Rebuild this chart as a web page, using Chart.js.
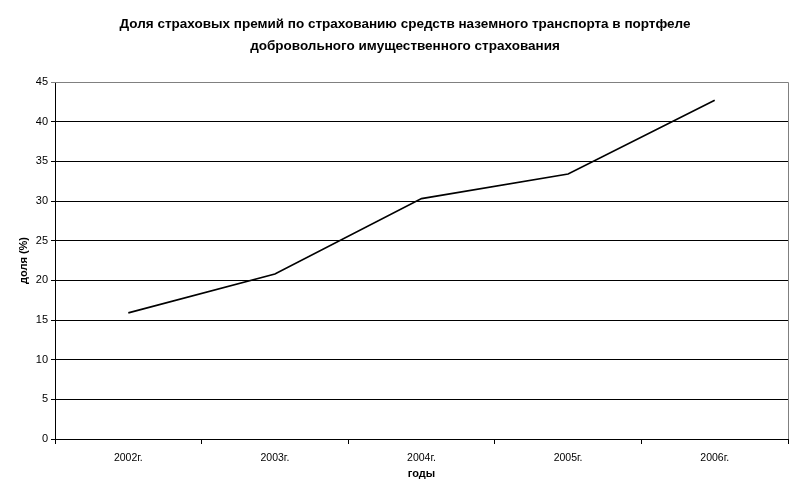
<!DOCTYPE html>
<html>
<head>
<meta charset="utf-8">
<script src="https://cdn.jsdelivr.net/npm/chart.js@4/dist/chart.umd.min.js"></script>
<style>
html,body{margin:0;padding:0;background:#fff;}
#wrap{width:800px;height:497px;position:relative;}
</style>
</head>
<body>
<div id="wrap"><canvas id="c" width="800" height="497"></canvas></div>
<script>
const titleLines = ['Доля страховых премий по страхованию средств наземного транспорта в портфеле', 'добровольного имущественного страхования'];
const categories = ['2002г.', '2003г.', '2004г.', '2005г.', '2006г.'];
const shareValues = [15.9, 20.8, 30.3, 33.4, 42.7];
const yTitle = 'доля (%)';
const xTitle = 'годы';
const yMin = 0, yMax = 45, yStep = 5;

const frame = {
  id: 'frame',
  afterDraw(chart) {
    const {ctx, chartArea: a} = chart;
    ctx.save();
    ctx.strokeStyle = '#808080';
    ctx.lineWidth = 1;
    ctx.beginPath();
    ctx.moveTo(a.left, Math.round(a.top) + 0.5);
    ctx.lineTo(Math.round(a.right) + 0.5, Math.round(a.top) + 0.5);
    ctx.lineTo(Math.round(a.right) + 0.5, a.bottom);
    ctx.stroke();
    ctx.restore();
  }
};

new Chart(document.getElementById('c'), {
  type: 'line',
  data: {
    labels: categories,
    datasets: [{
      data: shareValues,
      borderColor: '#000',
      borderWidth: 1.6,
      pointRadius: 0,
      tension: 0,
      fill: false,
      yAxisID: 'y'
    }]
  },
  options: {
    responsive: false,
    animation: false,
    devicePixelRatio: 1,
    layout: { padding: { left: 10, right: 0, top: 0, bottom: 0 } },
    plugins: {
      legend: { display: false },
      tooltip: { enabled: false },
      title: {
        display: true,
        text: titleLines,
        color: '#000',
        font: { family: 'Liberation Sans', size: 13.5, weight: 'bold', lineHeight: 1.63 },
        padding: { top: 13, bottom: 25 }
      }
    },
    scales: {
      x: {
        offset: true,
        grid: { display: true, drawOnChartArea: false, drawTicks: true, tickLength: 5, color: '#000', offset: true },
        border: { display: true, color: '#000', width: 1 },
        ticks: { color: '#000', font: { family: 'Liberation Sans', size: 10.5 }, padding: 8, maxRotation: 0 },
        title: { display: true, text: xTitle, color: '#000', font: { family: 'Liberation Sans', size: 11, weight: 'bold' }, padding: { top: 2, bottom: 16 } },
        afterFit(s) { s.height = 58; }
      },
      y: {
        min: yMin, max: yMax,
        grid: {
          color: (c) => (c.tick && c.tick.value === yMax) ? '#808080' : '#000',
          lineWidth: 1,
          drawTicks: true, tickLength: 4
        },
        border: { display: true, color: '#000', width: 1 },
        ticks: { stepSize: yStep, color: '#000', font: { family: 'Liberation Sans', size: 11 }, padding: 3 },
        title: { display: true, text: yTitle, color: '#000', font: { family: 'Liberation Sans', size: 11, weight: 'bold' }, padding: { top: 7, bottom: 0 } },
        afterFit(s) { s.width = 45; }
      },
      yRight: {
        position: 'right',
        display: true,
        grid: { display: false, drawTicks: false },
        border: { display: false },
        ticks: { display: false },
        afterFit(s) { s.width = 12; }
      }
    }
  },
  plugins: [frame]
});
</script>
</body>
</html>
